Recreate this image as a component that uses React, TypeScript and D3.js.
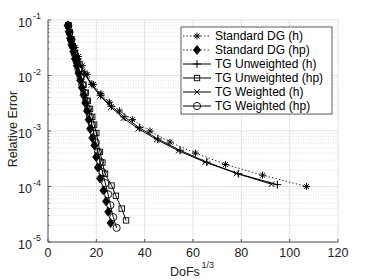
import * as d3 from 'd3'

// DoFs^(1/3) and relative error for each run
const dgHx = [8.2, 9.0, 10.0, 11.2, 12.6, 14.2, 16.2, 18.8, 21.9, 25.4, 29.6, 35.0, 42.2, 50.5, 61, 73.5, 88.8, 107]
const dgHy = [0.08, 0.062, 0.045, 0.032, 0.022, 0.015, 0.0105, 0.0069, 0.0047, 0.0033, 0.0023, 0.0016, 0.001, 6.3e-4, 4e-4, 2.5e-4, 1.6e-4, 1e-4]

const dgHpx = [8.2, 8.6, 9.1, 9.7, 10.4, 11.1, 11.9, 12.6, 13.3, 14.0, 14.7, 15.4, 16.1, 16.8, 17.4, 18.3, 19.2, 19.9, 20.6, 21.5, 22.9, 24.0, 24.9, 25.9]
const dgHpy = [0.08, 0.062, 0.047, 0.036, 0.027, 0.02, 0.015, 0.011, 0.0082, 0.006, 0.0044, 0.0032, 0.0023, 0.0016, 0.0011, 7.5e-4, 5.5e-4, 3.4e-4, 2.2e-4, 1.4e-4, 8.5e-5, 5.4e-5, 3.5e-5, 2.2e-5]

const tguHx = [8.3, 9.6, 11.0, 12.8, 15.2, 18.2, 21.8, 26.2, 31.5, 37.8, 45.4, 54.6, 65.7, 78.7, 94.9]
const tguHy = [0.078, 0.042, 0.028, 0.018, 0.011, 0.0069, 0.0044, 0.0028, 0.0018, 0.00115, 7.2e-4, 4.5e-4, 2.75e-4, 1.7e-4, 1.08e-4]

const tguHpx = [8.5, 9.0, 9.6, 10.3, 11.1, 12.0, 12.9, 13.8, 14.7, 15.6, 16.5, 17.4, 18.3, 19.1, 20.0, 21.5, 22.5, 23.6, 26.3, 28.1, 30.5, 32.3]
const tguHpy = [0.08, 0.06, 0.045, 0.034, 0.025, 0.018, 0.013, 0.0095, 0.0068, 0.0049, 0.0035, 0.0025, 0.0018, 0.0013, 9.2e-4, 4.2e-4, 2.7e-4, 1.7e-4, 1.04e-4, 6.8e-5, 4e-5, 2.45e-5]

const tgwHx = [8.3, 9.5, 10.9, 12.7, 15.0, 18.0, 21.6, 26.0, 31.2, 37.4, 45.0, 54.0, 65.0, 78.0, 92.5]
const tgwHy = [0.078, 0.043, 0.028, 0.018, 0.011, 0.0068, 0.0043, 0.0027, 0.0017, 0.0011, 7e-4, 4.4e-4, 2.75e-4, 1.72e-4, 1.1e-4]

const tgwHpx = [8.4, 8.9, 9.5, 10.2, 11.0, 11.8, 12.6, 13.4, 14.2, 15.0, 15.8, 16.6, 17.4, 18.2, 19.0, 19.8, 20.7, 21.6, 22.6, 23.7, 24.9, 25.8, 27.0, 28.4]
const tgwHpy = [0.08, 0.06, 0.045, 0.034, 0.025, 0.018, 0.013, 0.0095, 0.0068, 0.0049, 0.0035, 0.0025, 0.0018, 0.0013, 9e-4, 6.2e-4, 4.2e-4, 2.8e-4, 1.8e-4, 1.15e-4, 7.2e-5, 4.6e-5, 2.8e-5, 1.8e-5]

const xTicks = [0, 20, 40, 60, 80, 100, 120]
const yExps = [-1, -2, -3, -4, -5]

const series = [
  { name: 'Standard DG (h)', xs: dgHx, ys: dgHy, marker: 'star', dash: '1.5,2' },
  { name: 'Standard DG (hp)', xs: dgHpx, ys: dgHpy, marker: 'diamond', dash: '1.5,2' },
  { name: 'TG Unweighted (h)', xs: tguHx, ys: tguHy, marker: 'plus', dash: null },
  { name: 'TG Unweighted (hp)', xs: tguHpx, ys: tguHpy, marker: 'square', dash: null },
  { name: 'TG Weighted (h)', xs: tgwHx, ys: tgwHy, marker: 'cross', dash: null },
  { name: 'TG Weighted (hp)', xs: tgwHpx, ys: tgwHpy, marker: 'circle', dash: null },
]

const W = 374, H = 280
const x = d3.scaleLinear().domain([0, 120]).range([48, 338])
const y = d3.scaleLog().domain([1e-5, 1e-1]).range([242, 20])

function Marker({ type, cx, cy }: { type: string; cx: number; cy: number }) {
  const k = '#000'
  if (type === 'star') {
    const r = 3.5
    return (
      <g stroke={k} strokeWidth={1}>
        <line x1={cx - r} y1={cy} x2={cx + r} y2={cy} />
        <line x1={cx} y1={cy - r} x2={cx} y2={cy + r} />
        <line x1={cx - r * 0.7} y1={cy - r * 0.7} x2={cx + r * 0.7} y2={cy + r * 0.7} />
        <line x1={cx - r * 0.7} y1={cy + r * 0.7} x2={cx + r * 0.7} y2={cy - r * 0.7} />
      </g>
    )
  }
  if (type === 'diamond') {
    return <path d={`M${cx},${cy - 4.5}L${cx + 3.5},${cy}L${cx},${cy + 4.5}L${cx - 3.5},${cy}Z`} fill={k} stroke={k} strokeWidth={0.8} />
  }
  if (type === 'plus') {
    const r = 4
    return (
      <g stroke={k} strokeWidth={1}>
        <line x1={cx - r} y1={cy} x2={cx + r} y2={cy} />
        <line x1={cx} y1={cy - r} x2={cx} y2={cy + r} />
      </g>
    )
  }
  if (type === 'cross') {
    const r = 2.8
    return (
      <g stroke={k} strokeWidth={1}>
        <line x1={cx - r} y1={cy - r} x2={cx + r} y2={cy + r} />
        <line x1={cx - r} y1={cy + r} x2={cx + r} y2={cy - r} />
      </g>
    )
  }
  if (type === 'square') {
    return <rect x={cx - 2.7} y={cy - 2.7} width={5.4} height={5.4} fill="none" stroke={k} strokeWidth={0.9} />
  }
  return <circle cx={cx} cy={cy} r={3.6} fill="none" stroke={k} strokeWidth={0.9} />
}

export default function App() {
  const line = d3.line<[number, number]>().x(d => x(d[0])).y(d => y(d[1]))
  const minor: number[] = []
  for (let e = -5; e < -1; e++) for (let m = 2; m <= 9; m++) minor.push(m * Math.pow(10, e))
  const font = 'Liberation Sans, Arial, sans-serif'
  const legX = 181, legY = 27, legW = 151, legH = 87
  return (
    <svg width={W} height={H} style={{ position: 'absolute', left: 0, top: 0, background: '#fff' }} fontFamily={font}>
      {/* grid */}
      {minor.map(v => (
        <line key={'m' + v} x1={x(0)} x2={x(120)} y1={y(v)} y2={y(v)} stroke="#d0d0d0" strokeWidth={0.6} strokeDasharray="1,1.5" />
      ))}
      {yExps.map(e => (
        <line key={'g' + e} x1={x(0)} x2={x(120)} y1={y(Math.pow(10, e))} y2={y(Math.pow(10, e))} stroke="#e2e2e2" strokeWidth={1} />
      ))}
      {xTicks.map(t => (
        <line key={'gx' + t} x1={x(t)} x2={x(t)} y1={y(1e-5)} y2={y(1e-1)} stroke="#e2e2e2" strokeWidth={1} />
      ))}
      {/* axes */}
      <line x1={x(0)} x2={x(0)} y1={y(1e-5)} y2={y(1e-1)} stroke="#555" strokeWidth={1} />
      <line x1={x(0)} x2={x(120)} y1={y(1e-5)} y2={y(1e-5)} stroke="#555" strokeWidth={1} />
      {xTicks.map(t => (
        <g key={'xt' + t}>
          <line x1={x(t)} x2={x(t)} y1={y(1e-5)} y2={y(1e-5) - 3} stroke="#555" />
          <text x={x(t)} y={257} textAnchor="middle" fontSize={12.5} fill="#222">{t}</text>
        </g>
      ))}
      {minor.map(v => (
        <line key={'mt' + v} x1={x(0)} x2={x(0) + 1.5} y1={y(v)} y2={y(v)} stroke="#555" strokeWidth={0.8} />
      ))}
      {yExps.map(e => (
        <g key={'yt' + e}>
          <line x1={x(0)} x2={x(0) + 3} y1={y(Math.pow(10, e))} y2={y(Math.pow(10, e))} stroke="#555" />
          <text x={32} y={y(Math.pow(10, e)) + 6.5} textAnchor="end" fontSize={12.5} fill="#222">10</text>
          <text x={33} y={y(Math.pow(10, e)) - 1} textAnchor="start" fontSize={9} fill="#222">{e}</text>
        </g>
      ))}
      {/* labels */}
      <text x={170} y={276} fontSize={12.5} fill="#222">DoFs</text>
      <text x={201.5} y={268} fontSize={9} fill="#222">1/3</text>
      <text transform="translate(17,129) rotate(-90)" textAnchor="middle" fontSize={12.5} fill="#222">Relative Error</text>
      {/* data */}
      {series.map(s => {
        const pts = s.xs.map((v, i) => [v, s.ys[i]] as [number, number])
        return (
          <g key={s.name}>
            <path d={line(pts) || ''} fill="none" stroke="#000" strokeWidth={s.dash ? 0.8 : 1} strokeDasharray={s.dash || undefined} />
            {pts.map((p, i) => <Marker key={i} type={s.marker} cx={x(p[0])} cy={y(p[1])} />)}
          </g>
        )
      })}
      {/* legend */}
      <rect x={legX} y={legY} width={legW} height={legH} fill="#fff" stroke="#333" strokeWidth={0.8} />
      {series.map((s, i) => {
        const ly = 36 + i * 14
        return (
          <g key={'l' + s.name}>
            <line x1={183} x2={211} y1={ly} y2={ly} stroke="#000" strokeWidth={s.dash ? 0.8 : 1} strokeDasharray={s.dash || undefined} />
            <Marker type={s.marker} cx={197} cy={ly} />
            <text x={215} y={ly + 4.3} fontSize={12} fill="#000">{s.name}</text>
          </g>
        )
      })}
    </svg>
  )
}
